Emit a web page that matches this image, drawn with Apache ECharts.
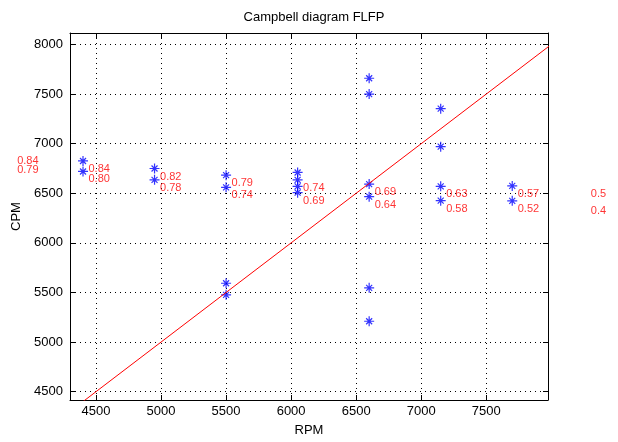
<!DOCTYPE html>
<html>
<head>
<meta charset="utf-8">
<script src="https://cdn.jsdelivr.net/npm/echarts@6/dist/echarts.min.js"></script>
<style>
  html,body{margin:0;padding:0;background:#fff;}
  #main{width:618px;height:442px;}
</style>
</head>
<body>
<div id="main"></div>
<script>
// 测得的固有频率点 (RPM, CPM)
var pointRpm = [4400, 4400, 4950, 4950, 5500, 5500, 5500, 5500,
  6050, 6050, 6050, 6050, 6600, 6600, 6600, 6600, 6600, 6600,
  7150, 7150, 7150, 7150, 7700, 7700];
var pointCpm = [6826, 6720, 6750, 6636, 6683, 6560, 5593, 5476,
  6710, 6636, 6570, 6506, 7660, 7500, 6593, 6466, 5547, 5210,
  7353, 6970, 6570, 6426, 6574, 6424];

// 点旁边的红色数字
var labelRpm = [4400, 4400, 4950, 4950, 5500, 5500, 6050, 6050, 6600, 6600, 7150, 7150, 7700, 7700];
var labelCpm = [6826, 6720, 6750, 6636, 6683, 6560, 6636, 6506, 6593, 6466, 6570, 6426, 6574, 6424];
var labelText = ['0.84', '0.80', '0.82', '0.78', '0.79', '0.74', '0.74', '0.69',
  '0.69', '0.64', '0.63', '0.58', '0.57', '0.52'];

// 坐标区外面的数字
var outerRpm = [3890, 3890, 8300, 8300];
var outerCpm = [6828, 6733, 6493, 6326];
var outerText = ['0.84', '0.79', '0.5', '0.4'];

// 1x 转速线 CPM = RPM
var orderRpm = [4000, 8500];
var orderCpm = [4000, 8500];

// 刻度
var xTicks = [4500, 5000, 5500, 6000, 6500, 7000, 7500];
var yTicks = [4500, 5000, 5500, 6000, 6500, 7000, 7500, 8000];

var xMin = 4300, xMax = 7975;
var yMin = 4416, yMax = 8116;

var myChart = echarts.init(document.getElementById('main'));

function zip(a, b) {
  return a.map(function (v, i) { return [v, b[i]]; });
}

var font = 'Liberation Sans, Arial, sans-serif';

var asterisk = 'path://M0,-5L0,5M-5,0L5,0M-3,-3L3,3M-3,3L3,-3';

function plain(v) { return String(v); }

var option = {
  animation: false,
  backgroundColor: '#fff',
  title: {
    text: 'Campbell diagram FLFP',
    left: 309,
    textAlign: 'center',
    top: 6,
    textStyle: {fontFamily: font, fontSize: 13, fontWeight: 'normal', color: '#000'}
  },
  grid: {left: 70, top: 33, right: 70, bottom: 39, containLabel: false},
  xAxis: [{
    type: 'value',
    min: xMin,
    max: xMax,
    name: 'RPM',
    nameLocation: 'middle',
    nameGap: 24,
    nameTextStyle: {fontFamily: font, fontSize: 13, color: '#000'},
    axisLine: {onZero: false, lineStyle: {color: '#000', width: 1}},
    axisTick: {inside: true, length: 5, customValues: xTicks, lineStyle: {color: '#000'}},
    axisLabel: {customValues: xTicks, formatter: plain, margin: 5, fontFamily: font, fontSize: 13, color: '#000'},
    splitLine: {show: true, lineStyle: {color: '#000', type: [1, 4], width: 1}}
  }, {
    type: 'value',
    position: 'top',
    min: xMin,
    max: xMax,
    axisLine: {onZero: false, lineStyle: {color: '#000', width: 1}},
    axisTick: {inside: true, length: 5, customValues: xTicks, lineStyle: {color: '#000'}},
    axisLabel: {show: false},
    splitLine: {show: false}
  }],
  yAxis: [{
    type: 'value',
    min: yMin,
    max: yMax,
    name: 'CPM',
    nameLocation: 'middle',
    nameGap: 42,
    nameTextStyle: {fontFamily: font, fontSize: 13, color: '#000'},
    axisLine: {show: true, onZero: false, lineStyle: {color: '#000', width: 1}},
    axisTick: {show: true, inside: true, length: 5, customValues: yTicks, lineStyle: {color: '#000'}},
    axisLabel: {customValues: yTicks, formatter: plain, margin: 7, fontFamily: font, fontSize: 13, color: '#000'},
    splitLine: {show: true, lineStyle: {color: '#000', type: [1, 4], width: 1}}
  }, {
    type: 'value',
    position: 'right',
    min: yMin,
    max: yMax,
    axisLine: {show: true, onZero: false, lineStyle: {color: '#000', width: 1}},
    axisTick: {show: true, inside: true, length: 5, customValues: yTicks, lineStyle: {color: '#000'}},
    axisLabel: {show: false},
    splitLine: {show: false}
  }],
  series: [{
    type: 'line',
    data: zip(orderRpm, orderCpm),
    symbol: 'none',
    lineStyle: {color: '#ff0000', width: 1},
    clip: true,
    silent: true
  }, {
    type: 'scatter',
    data: zip(pointRpm, pointCpm),
    symbol: asterisk,
    symbolSize: 10,
    itemStyle: {color: '#0000ff', borderColor: '#0000ff', borderWidth: 1.2}
  }, {
    type: 'scatter',
    data: zip(labelRpm, labelCpm).map(function (p, i) {
      return {value: p, label: {formatter: labelText[i]}};
    }),
    symbolSize: 1,
    itemStyle: {color: 'transparent'},
    label: {
      show: true, position: 'right', distance: 5, offset: [0, 8],
      fontFamily: font, fontSize: 11, color: '#ff0000'
    }
  }, {
    type: 'scatter',
    clip: false,
    data: zip(outerRpm, outerCpm).map(function (p, i) {
      return {value: p, label: {formatter: outerText[i]}};
    }),
    symbolSize: 1,
    itemStyle: {color: 'transparent'},
    label: {
      show: true, position: 'right', distance: 0,
      fontFamily: font, fontSize: 11, color: '#ff0000'
    }
  }]
};

myChart.setOption(option);
</script>
</body>
</html>
